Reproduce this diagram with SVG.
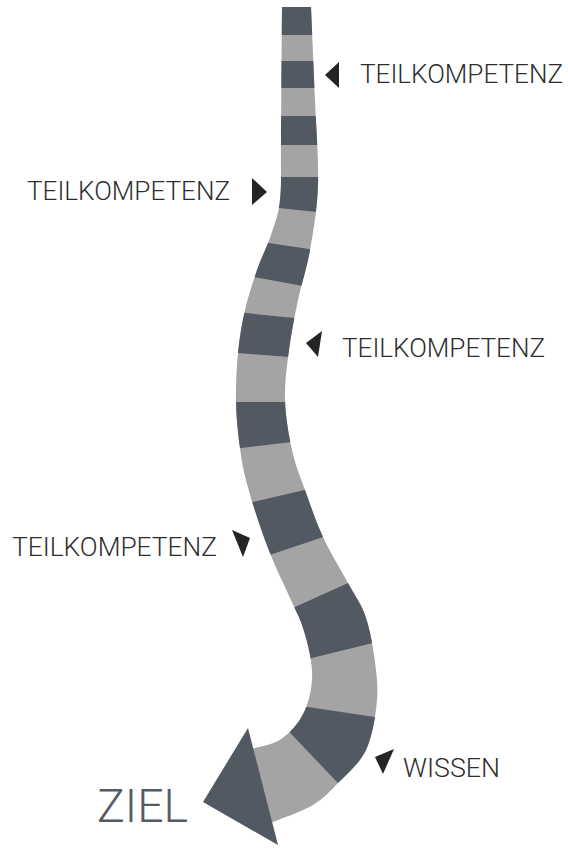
<svg xmlns="http://www.w3.org/2000/svg" width="568" height="850" viewBox="0 0 568 850">
<style>
.lbl{font-family:Roboto,"Liberation Sans",sans-serif;font-weight:300;font-size:25px;fill:#2e2e2e}
.ziel{font-family:Roboto,"Liberation Sans",sans-serif;font-weight:300;font-size:46px;fill:#565b62}
.dk{fill:#525962}
.mk{fill:#222426}
</style>
<defs>
<path id="bandPath" d="M282,7 L311,7 C311.7,22.5 313.8,70.3 315,100 C316.2,129.7 318.8,160 318,185 C317.2,210 313.3,230.8 310,250 C306.7,269.2 301.5,283.3 298,300 C294.5,316.7 291.2,333.3 289,350 C286.8,366.7 284.5,383.3 285,400 C285.5,416.7 288.7,435 292,450 C295.3,465 299.8,475.5 305,490 C310.2,504.5 315.8,521.5 323,537 C330.2,552.5 341,570 348,583 C355,596 360.7,603 365,615 C369.3,627 372,640.8 374,655 C376,669.2 378.3,684.2 377,700 C375.7,715.8 372.5,736.2 366,750 C359.5,763.8 346.8,773.8 338,783 C329.2,792.2 323.8,798.5 313,805 C302.2,811.5 279.7,819.2 273,822 L262,826 L245,752 L255,748 C258.8,746.8 271.2,744.8 278,741 C284.8,737.2 291.2,731 296,725 C300.8,719 304.3,712.5 307,705 C309.7,697.5 311.5,688.3 312,680 C312.5,671.7 311.7,664.2 310,655 C308.3,645.8 305.3,634.5 302,625 C298.7,615.5 295,609.2 290,598 C285,586.8 277.3,571 272,558 C266.7,545 262.3,533 258,520 C253.7,507 249,492 246,480 C243,468 241.7,461 240,448 C238.3,435 236.3,417.8 236,402 C235.7,386.2 236.5,368.3 238,353 C239.5,337.7 241.8,323.8 245,310 C248.2,296.2 252.7,282.5 257,270 C261.3,257.5 267.2,246.7 271,235 C274.8,223.3 278.3,215.8 280,200 C281.7,184.2 280.7,172.2 281,140 C281.3,107.8 281.8,29.2 282,7 Z"/>
<clipPath id="bandClip"><use href="#bandPath"/></clipPath>
</defs>
<g id="connectors">
<g id="band">
<use href="#bandPath" fill="#a4a4a4"/>
<g clip-path="url(#bandClip)">
<rect class="dk" x="260" y="0" width="80" height="35"/>
<rect class="dk" x="260" y="61" width="80" height="27"/>
<rect class="dk" x="260" y="116" width="80" height="29"/>
<polygon class="dk" points="250,177 345,177 344,215 250,205"/>
<polygon class="dk" points="236,238 343,254 340,293 216,270"/>
<polygon class="dk" points="205,309 335,322 328,360 198,350"/>
<polygon class="dk" points="197,402 324,402 334,437 198,453"/>
<polygon class="dk" points="210,512 347,480 365,523 228,569"/>
<polygon class="dk" points="253,626 390,564 422,631 263,670"/>
<polygon class="dk" points="288,704 429,725 376,823 276,718"/>
</g>
</g>
<polygon id="arrowhead" class="dk" points="248,728 203,802 278,845"/>
</g>
<g id="label1">
<polygon class="mk" points="325,75 339,62 339,88"/>
<text class="lbl" x="360" y="83" textLength="203" lengthAdjust="spacingAndGlyphs">TEILKOMPETENZ</text>
</g>
<g id="label2">
<polygon class="mk" points="252,178 267,192 252,205"/>
<text class="lbl" x="27" y="200" textLength="203" lengthAdjust="spacingAndGlyphs">TEILKOMPETENZ</text>
</g>
<g id="label3">
<polygon class="mk" points="306,343 322,331 318,357"/>
<text class="lbl" x="342" y="357" textLength="203" lengthAdjust="spacingAndGlyphs">TEILKOMPETENZ</text>
</g>
<g id="label4">
<polygon class="mk" points="232,530 250,538 243,557"/>
<text class="lbl" x="12" y="556" textLength="205" lengthAdjust="spacingAndGlyphs">TEILKOMPETENZ</text>
</g>
<g id="label5">
<polygon class="mk" points="394,749 375,757 383,774"/>
<text class="lbl" x="403" y="777" textLength="97" lengthAdjust="spacingAndGlyphs">WISSEN</text>
</g>
<g id="ziel">
<text class="ziel" x="97" y="822" textLength="91" lengthAdjust="spacingAndGlyphs">ZIEL</text>
</g>
</svg>
